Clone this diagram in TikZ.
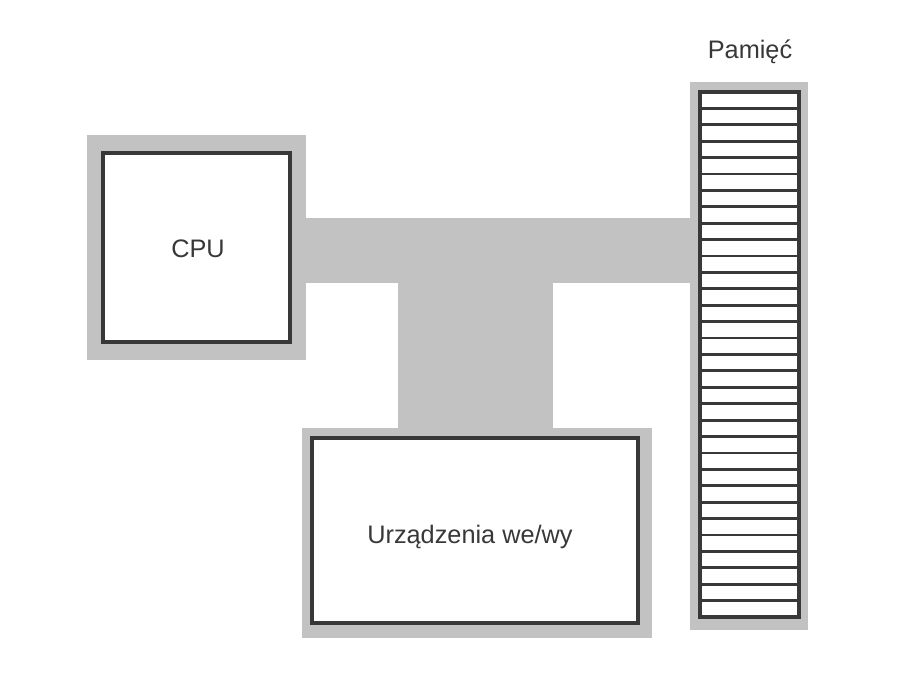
\documentclass[tikz,border=0pt]{standalone}
\usepackage{fontspec}
\setmainfont{Liberation Sans}
\definecolor{ink}{gray}{0.22}
\definecolor{busgray}{gray}{0.76}
\tikzset{
  box/.style={draw=ink,line width=2.2pt,fill=white},
  frame/.style={fill=busgray},
  lbl/.style={anchor=base,text=ink,font=\fontsize{18}{20}\selectfont}
}
\begin{document}
\begin{tikzpicture}[x=0.025cm,y=-0.025cm]
\useasboundingbox (0,0) rectangle (912,689);
% szyna
\fill[frame] (300,218) rectangle (695,283);
\fill[frame] (398,280) rectangle (553,432);
% ramki
\fill[frame] (87,135) rectangle (306,360);
\fill[frame] (302,428) rectangle (652,638);
\fill[frame] (690,82) rectangle (808,630);
% bloki
\draw[box] (103,153) rectangle (290,342);
\draw[box] (312,438) rectangle (638,623);
\draw[box] (700,92) rectangle (799,617);
\foreach \k in {1,...,31}
  \draw[draw=ink,line width=2pt] (700,92+\k*16.406) -- (799,92+\k*16.406);
\node[lbl] (cpu) at (198,257) {CPU};
\node[lbl] (io) at (470,543) {Urządzenia we/wy};
\node[lbl] (mem) at (750,59) {Pamięć};
\end{tikzpicture}
\end{document}
